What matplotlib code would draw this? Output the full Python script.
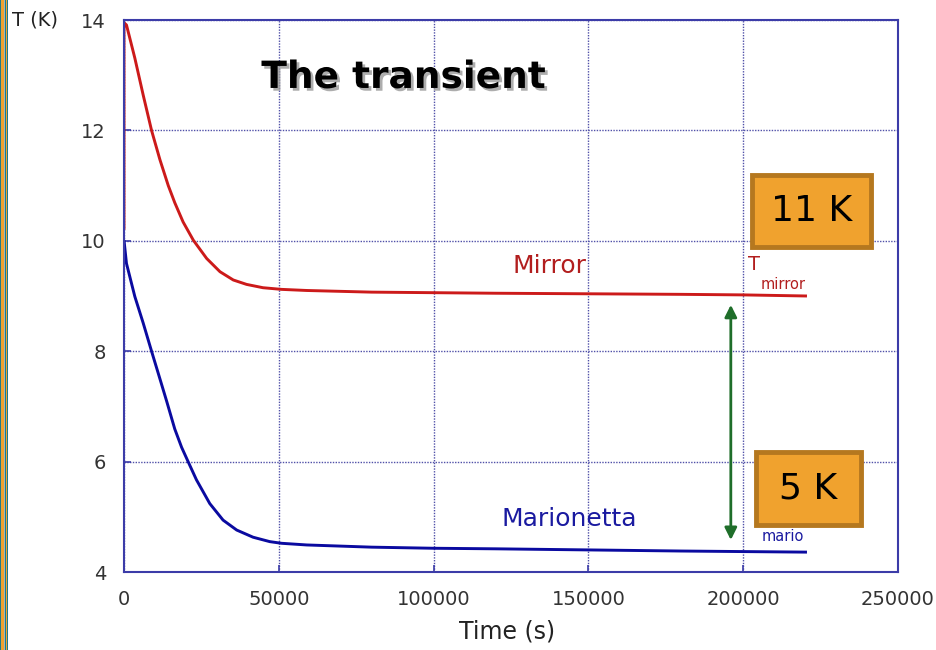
import matplotlib
matplotlib.use("Agg")
import matplotlib.pyplot as plt
import matplotlib.patheffects as pe
from matplotlib.patches import Rectangle

# ---- data ----
time_mirror = [0, 0, 800, 3500, 6200, 8900, 11600, 14300, 16400, 19100, 22400,
               26700, 31000, 35300, 39600, 44900, 50900, 59000, 80000, 100000,
               120000, 150000, 180000, 200000, 220600]
temp_mirror = [10.2, 13.95, 13.91, 13.31, 12.64, 12.0, 11.47, 11.0, 10.69, 10.34, 10.01,
               9.68, 9.44, 9.29, 9.21, 9.15, 9.12, 9.10, 9.07, 9.06,
               9.05, 9.04, 9.03, 9.02, 9.0]
time_mario = [0, 800, 3500, 6200, 8900, 11600, 13800, 16400, 18600, 20700, 23400,
              27700, 32000, 36400, 41700, 47100, 50900, 59000, 80000, 100000,
              120000, 150000, 180000, 200000, 220600]
temp_mario = [10.01, 9.59, 8.99, 8.51, 8.0, 7.50, 7.09, 6.59, 6.26, 6.0, 5.67,
              5.24, 4.94, 4.76, 4.63, 4.55, 4.52, 4.49, 4.45, 4.43,
              4.42, 4.40, 4.38, 4.37, 4.36]
x_ticks = [0, 50000, 100000, 150000, 200000, 250000]
y_ticks = [4, 6, 8, 10, 12, 14]
gap_arrow = (196000, 8.84, 4.58)   # time, upper T, lower T

W, H = 936, 650
fig = plt.figure(figsize=(W / 100, H / 100), dpi=100)
fig.patch.set_facecolor("white")
ax = fig.add_axes([124 / W, (H - 572) / H, (898 - 124) / W, (572 - 20) / H])

axis_col = "#3c3ca8"
ax.set_xlim(0, 250000)
ax.set_ylim(4, 14)
ax.set_xticks(x_ticks)
ax.set_yticks(y_ticks)
ax.set_xticklabels([str(v) for v in x_ticks])
ax.set_yticklabels([str(v) for v in y_ticks])
for s in ax.spines.values():
    s.set_color(axis_col)
    s.set_linewidth(1.5)
ax.tick_params(direction="in", length=5, width=1.2, color=axis_col,
               labelsize=14, labelcolor="#333333", pad=13)
ax.grid(True, linestyle=(0, (1, 1)), color="#5050a8", linewidth=1.0)
ax.set_axisbelow(True)

ax.plot(time_mirror, temp_mirror, color="#cc1a1a", lw=2.1,
        solid_joinstyle="round", solid_capstyle="butt")
ax.plot(time_mario, temp_mario, color="#0a0aa0", lw=2.1,
        solid_joinstyle="round", solid_capstyle="butt")

ax.annotate("", xy=(gap_arrow[0], gap_arrow[2]), xytext=(gap_arrow[0], gap_arrow[1]),
            arrowprops=dict(arrowstyle="<|-|>", color="#1f6e2a", lw=2,
                            mutation_scale=18, shrinkA=0, shrinkB=0))

ax.text(137400, 9.54, "Mirror", color="#b21e1e", fontsize=18, ha="center", va="center")
ax.text(143900, 4.96, "Marionetta", color="#1a1aa0", fontsize=18, ha="center", va="center")
ax.text(201500, 9.57, "T", color="#b21e1e", fontsize=14, ha="left", va="center")
ax.text(205500, 9.2, "mirror", color="#b21e1e", fontsize=10.5, ha="left", va="center")
ax.text(206000, 4.65, "mario", color="#1a1aa0", fontsize=10.5, ha="left", va="center")

title = ax.text(90300, 12.95, "The transient", fontsize=27, fontweight="bold",
                color="black", ha="center", va="center")
title.set_path_effects([pe.withSimplePatchShadow(offset=(2, -2), shadow_rgbFace="#999999", alpha=0.8)])

# Orange boxes (figure pixel placement)
def box(x0, y0, x1, y1, label):
    r = Rectangle((x0 / W, 1 - y1 / H), (x1 - x0) / W, (y1 - y0) / H,
                  transform=fig.transFigure, facecolor="#f0a22e",
                  edgecolor="#b5781f", linewidth=3.5, zorder=10)
    fig.patches.append(r)
    fig.text((x0 + x1) / 2 / W, 1 - (y0 + y1) / 2 / H, label, fontsize=26,
             ha="center", va="center", color="black", zorder=11)

box(752, 175, 871, 247, "11 K")
box(756, 452, 861, 525, "5 K")

fig.text(12 / W, 1 - 20 / H, "T (K)", fontsize=14, color="#222222", ha="left", va="center")
fig.text(507 / W, 1 - 632 / H, "Time (s)", fontsize=17, color="#222222", ha="center", va="center")

# left slide border stripes
for x0, w, c in [(0, 1, "#1f7a86"), (1, 2.5, "#f0a22e"), (3.5, 1, "#9ab8c0"),
                 (4.5, 1.2, "#1f7a86"), (5.7, 0.8, "#f0a22e"), (6.5, 1, "#1f7a86")]:
    fig.patches.append(Rectangle((x0 / W, 0), w / W, 1, transform=fig.transFigure,
                                 facecolor=c, edgecolor="none", zorder=12))

fig.savefig("out.png", dpi=100)
